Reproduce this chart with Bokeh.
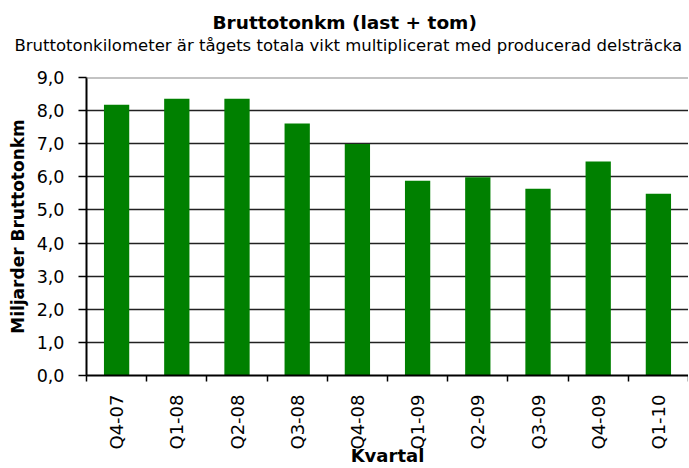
import math
from bokeh.plotting import figure
from bokeh.models import Range1d, FixedTicker, Title, Span
from bokeh.embed import file_html
from bokeh.resources import INLINE

quarters = ["Q4-07", "Q1-08", "Q2-08", "Q3-08", "Q4-08",
            "Q1-09", "Q2-09", "Q3-09", "Q4-09", "Q1-10"]
values = [8.18, 8.36, 8.36, 7.61, 6.99, 5.88, 5.99, 5.64, 6.46, 5.49]
y_ticks = [0, 1, 2, 3, 4, 5, 6, 7, 8, 9]
y_tick_labels = ["0,0", "1,0", "2,0", "3,0", "4,0", "5,0", "6,0", "7,0", "8,0", "9,0"]

title_text = "Bruttotonkm (last + tom)"
subtitle_text = "Bruttotonkilometer är tågets totala vikt multiplicerat med producerad delsträcka"
x_title = "Kvartal"
y_title = "Miljarder Bruttotonkm"

FONT = "DejaVu Sans"
n = len(quarters)
centers = [i + 0.5 for i in range(n)]
bounds = [i for i in range(n + 1)]

p = figure(width=688, height=468,
           x_range=Range1d(0, n), y_range=Range1d(0, y_ticks[-1]),
           output_backend="svg", toolbar_location=None,
           min_border_left=86, min_border_right=0, min_border_bottom=93,
           min_border_top=77)

p.vbar(x=centers, top=values, width=0.42, fill_color="#008000", line_color=None)

# main title (outermost panel)
p.title.text = title_text
p.title.align = "left"
p.title.offset = 126
p.title.text_font = FONT
p.title.text_font_size = "18.5px"
p.title.text_font_style = "bold"
p.title.text_color = "black"
p.title.standoff = 2

# spacer nearest to the plot area, then the subtitle
spacer = Title(text=" ", text_font=FONT, text_font_size="10px", standoff=10)
p.add_layout(spacer, "above")
sub = Title(text=subtitle_text, align="left", offset=-72, text_font=FONT,
            text_font_size="16.5px", text_font_style="normal", text_color="black",
            standoff=0)
p.add_layout(sub, "above")

# x axis
xa = p.xaxis[0]
xa.ticker = FixedTicker(ticks=centers, minor_ticks=bounds)
xa.major_label_overrides = {c: q for c, q in zip(centers, quarters)}
xa.major_label_orientation = math.pi / 2
xa.major_tick_line_color = None
xa.major_tick_in = 0
xa.major_tick_out = 6
xa.minor_tick_in = 0
xa.minor_tick_out = 6
xa.minor_tick_line_color = "black"
xa.minor_tick_line_width = 1.5
xa.axis_line_color = "black"
xa.axis_line_width = 2
xa.major_label_text_font = FONT
xa.major_label_text_font_size = "18px"
xa.major_label_text_color = "black"
xa.major_label_standoff = 13
xa.axis_label = x_title
xa.axis_label_text_font = FONT
xa.axis_label_text_font_size = "18px"
xa.axis_label_text_font_style = "bold"
xa.axis_label_text_color = "black"
xa.axis_label_standoff = -8

# y axis
ya = p.yaxis[0]
ya.ticker = FixedTicker(ticks=y_ticks)
ya.major_label_overrides = {t: l for t, l in zip(y_ticks, y_tick_labels)}
ya.major_tick_in = 0
ya.major_tick_out = 8
ya.major_tick_line_color = "black"
ya.major_tick_line_width = 1.5
ya.minor_tick_line_color = None
ya.axis_line_color = "black"
ya.axis_line_width = 2
ya.major_label_text_font = FONT
ya.major_label_text_font_size = "17.5px"
ya.major_label_text_color = "black"
ya.major_label_standoff = 14
ya.axis_label = y_title
ya.axis_label_text_font = FONT
ya.axis_label_text_font_size = "17px"
ya.axis_label_text_font_style = "bold"
ya.axis_label_text_color = "black"
ya.axis_label_standoff = 6

p.xgrid.grid_line_color = None
p.ygrid.ticker = FixedTicker(ticks=y_ticks[1:-1])
p.ygrid.grid_line_color = "#222222"
p.ygrid.grid_line_width = 1.5
p.add_layout(Span(location=y_ticks[-1], dimension="width", line_color="#888888", line_width=2))
p.outline_line_color = None
p.background_fill_color = "white"
p.border_fill_color = "white"

open("out.html", "w").write(file_html(p, INLINE))
